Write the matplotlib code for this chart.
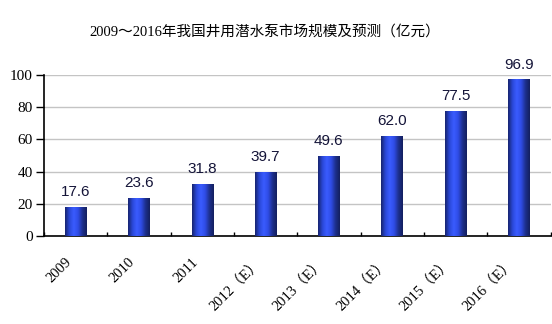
import numpy as np
import matplotlib.pyplot as plt
from matplotlib.colors import LinearSegmentedColormap

years = ['2009', '2010', '2011', '2012（E）', '2013（E）', '2014（E）', '2015（E）', '2016（E）']
values = [17.6, 23.6, 31.8, 39.7, 49.6, 62.0, 77.5, 96.9]
title = '2009～2016年我国井用潜水泵市场规模及预测（亿元）'

serif = ['Liberation Serif', 'Noto Sans CJK SC']

# cylinder-like shading across each bar
shade = LinearSegmentedColormap.from_list(
    'bar', ['#16246e', '#2a48d8', '#3a5cff', '#2f4ce6', '#1d308e', '#141f5e'])
grad = np.linspace(0, 1, 64).reshape(1, -1)


def main():
    fig = plt.figure(figsize=(5.52, 3.24), dpi=100)
    ax = fig.add_axes([44 / 552, 1 - 236 / 324, 506.5 / 552, 161 / 324])

    x = np.arange(len(values))
    w = 0.34
    for xi, v in zip(x, values):
        ax.imshow(grad, cmap=shade, aspect='auto', extent=(xi - w / 2, xi + w / 2, 0, v),
                  zorder=3, interpolation='bicubic')
        ax.annotate(f'{v:.1f}', xy=(xi, v), xytext=(0, 6), textcoords='offset points',
                    ha='center', va='bottom', fontsize=11,
                    family='Liberation Sans', color='#141438')

    ax.set_xlim(-0.5, len(values) - 0.5)
    ax.set_ylim(0, 100)
    ax.set_yticks(range(0, 101, 20))
    ax.yaxis.grid(True, color='#c4c4c4', linewidth=1)
    ax.set_axisbelow(True)
    for s in ['top', 'right']:
        ax.spines[s].set_visible(False)
    ax.spines['left'].set_linewidth(1.2)
    ax.spines['bottom'].set_linewidth(1.2)

    ax.set_xticks(np.arange(-0.5, len(values), 1))
    ax.set_xticklabels([])
    ax.tick_params(axis='x', direction='in', length=3, width=1)
    ax.tick_params(axis='y', direction='out', length=6, width=1, pad=2)
    for lab in ax.get_yticklabels():
        lab.set_family(serif)
        lab.set_fontsize(11)

    for xi, name in zip(x, years):
        ax.annotate(name, xy=(xi, 0), xytext=(-8, -14), textcoords='offset points',
                    rotation=45, ha='right', va='top', rotation_mode='anchor',
                    family=serif, fontsize=10.5)

    fig.text(265 / 552, 1 - 32 / 324, title, ha='center', va='center', family=serif, fontsize=10.5)
    fig.savefig('out.png', dpi=100)


if __name__ == '__main__':
    main()
